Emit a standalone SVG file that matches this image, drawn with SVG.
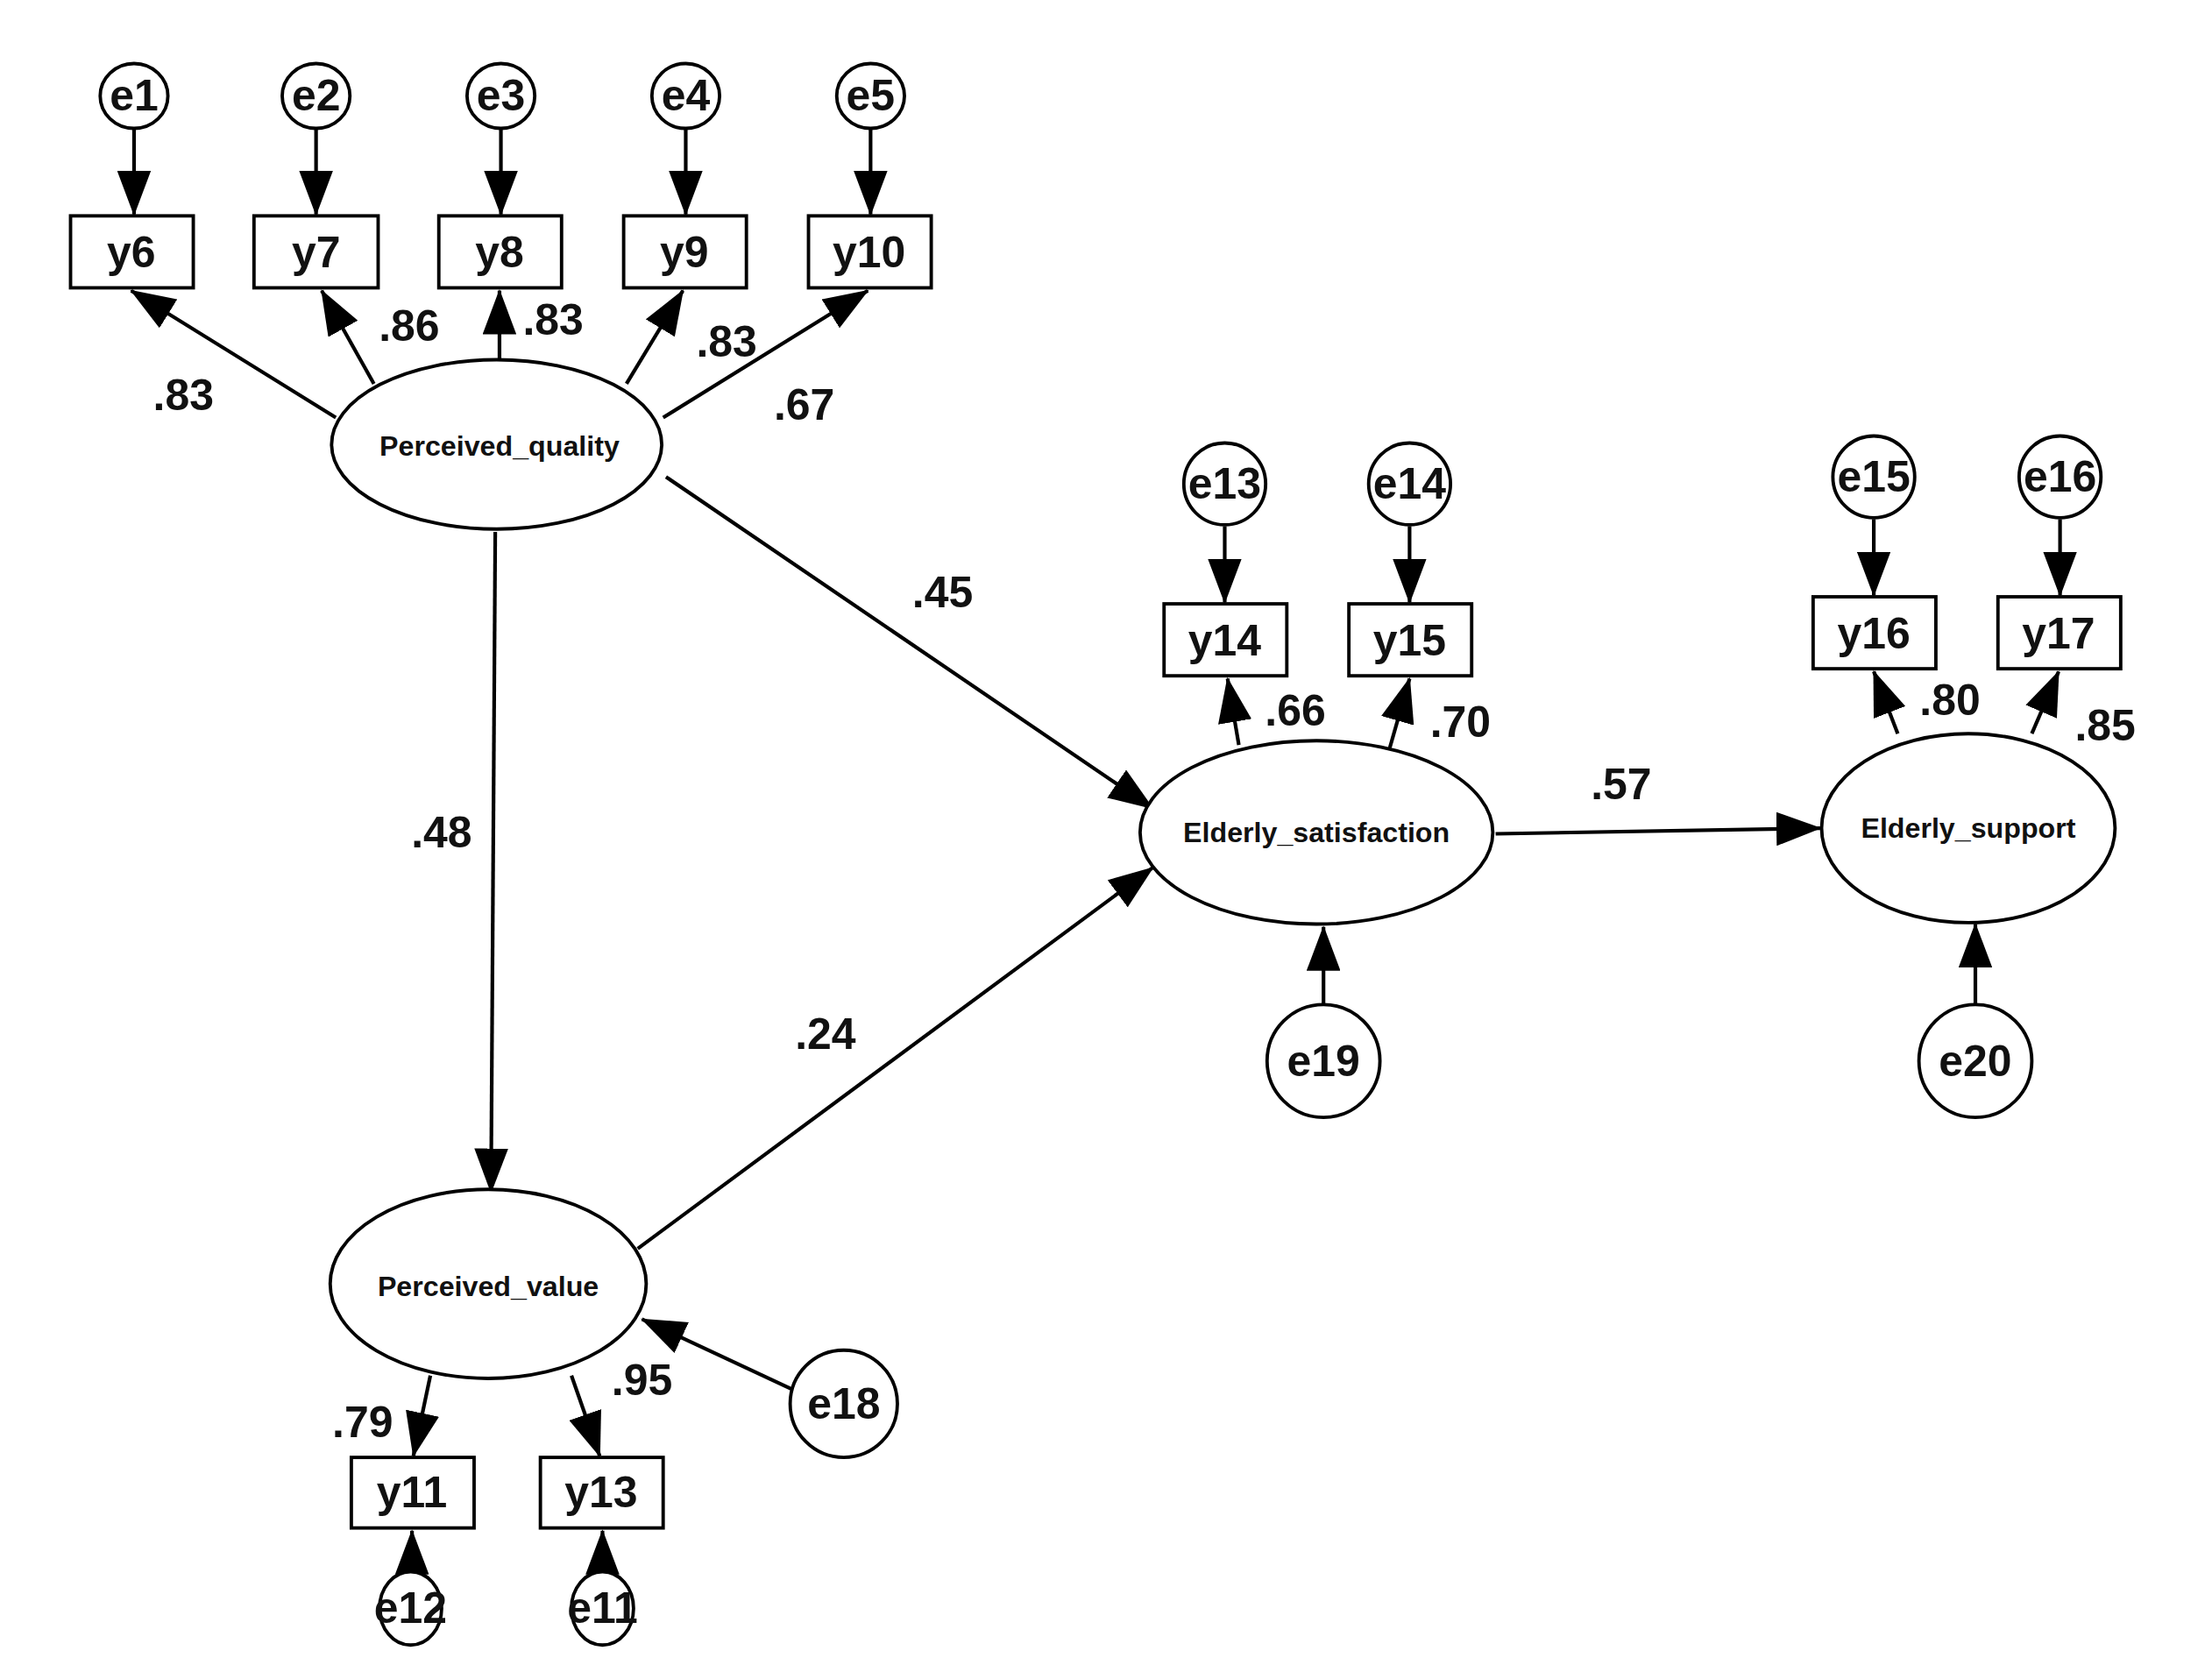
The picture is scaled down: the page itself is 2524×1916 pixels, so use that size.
<svg xmlns="http://www.w3.org/2000/svg" width="2524" height="1916" viewBox="0 0 2524 1916">
<style>
.n{fill:#fff;stroke:#000;stroke-width:2.4}
.t{font-family:"Liberation Sans",Arial,sans-serif;font-weight:bold;text-anchor:middle;dominant-baseline:central;fill:#111}
.b{font-size:31px}
.l{font-size:31px}
.s{font-size:20px}
.c line{stroke:#000;stroke-width:2.6;marker-end:url(#a)}
</style>
<defs><marker id="a" markerUnits="userSpaceOnUse" markerWidth="32" markerHeight="24" refX="31" refY="12" orient="auto"><path d="M0,0L32,12L0,24Z" fill="#000"/></marker></defs>
<rect width="2524" height="1916" fill="#fff"/>
<g transform="scale(1.61)">
<g class="c" id="connectors">
<line x1="95" y1="91" x2="95" y2="152"/><line x1="224" y1="91" x2="224" y2="152"/><line x1="355" y1="91" x2="355" y2="152"/><line x1="486" y1="91" x2="486" y2="152"/><line x1="617" y1="91" x2="617" y2="152"/>
<line x1="238" y1="296" x2="93" y2="206"/><line x1="265" y1="272" x2="228" y2="206"/><line x1="354" y1="255" x2="354" y2="206"/><line x1="444" y1="272" x2="484" y2="206"/><line x1="470" y1="296" x2="615" y2="206"/>
<line x1="472" y1="338" x2="817" y2="573"/><line x1="351" y1="377" x2="348" y2="845"/><line x1="452" y1="885" x2="817" y2="615"/><line x1="1060" y1="591" x2="1290" y2="587"/>
<line x1="878" y1="528" x2="870" y2="481"/><line x1="985" y1="530" x2="999" y2="481"/><line x1="1345" y1="520" x2="1328" y2="476"/><line x1="1440" y1="520" x2="1459" y2="476"/>
<line x1="868" y1="373" x2="868" y2="427"/><line x1="999" y1="373" x2="999" y2="427"/><line x1="1328" y1="368" x2="1328" y2="422"/><line x1="1460" y1="368" x2="1460" y2="422"/>
<line x1="938" y1="712" x2="938" y2="657"/><line x1="1400" y1="712" x2="1400" y2="655"/><line x1="562" y1="985" x2="455" y2="935"/>
<line x1="305" y1="975" x2="293" y2="1032"/><line x1="405" y1="975" x2="425" y2="1032"/>
<line x1="292" y1="1140" x2="292" y2="1085"/><line x1="427" y1="1140" x2="427" y2="1085"/>
</g>
<g id="e1"><ellipse class="n" cx="95" cy="68" rx="24" ry="23"/><text class="t b" x="95" y="68">e1</text></g>
<g id="e2"><ellipse class="n" cx="224" cy="68" rx="24" ry="23"/><text class="t b" x="224" y="68">e2</text></g>
<g id="e3"><ellipse class="n" cx="355" cy="68" rx="24" ry="23"/><text class="t b" x="355" y="68">e3</text></g>
<g id="e4"><ellipse class="n" cx="486" cy="68" rx="24" ry="23"/><text class="t b" x="486" y="68">e4</text></g>
<g id="e5"><ellipse class="n" cx="617" cy="68" rx="24" ry="23"/><text class="t b" x="617" y="68">e5</text></g>
<g id="y6"><rect class="n" x="50" y="153" width="87" height="51"/><text class="t b" x="93" y="179">y6</text></g>
<g id="y7"><rect class="n" x="180" y="153" width="88" height="51"/><text class="t b" x="224" y="179">y7</text></g>
<g id="y8"><rect class="n" x="311" y="153" width="87" height="51"/><text class="t b" x="354" y="179">y8</text></g>
<g id="y9"><rect class="n" x="442" y="153" width="87" height="51"/><text class="t b" x="485" y="179">y9</text></g>
<g id="y10"><rect class="n" x="573" y="153" width="87" height="51"/><text class="t b" x="616" y="179">y10</text></g>
<g id="pq"><ellipse class="n" cx="352" cy="315" rx="117" ry="60"/><text class="t s" x="354" y="316">Perceived_quality</text></g>
<g id="e13"><circle class="n" cx="868" cy="343" r="29"/><text class="t b" x="868" y="343">e13</text></g>
<g id="e14"><circle class="n" cx="999" cy="343" r="29"/><text class="t b" x="999" y="343">e14</text></g>
<g id="y14"><rect class="n" x="825" y="428" width="87" height="51"/><text class="t b" x="868" y="454">y14</text></g>
<g id="y15"><rect class="n" x="956" y="428" width="87" height="51"/><text class="t b" x="999" y="454">y15</text></g>
<g id="es"><ellipse class="n" cx="933" cy="590" rx="125" ry="65"/><text class="t s" x="933" y="590">Elderly_satisfaction</text></g>
<g id="e15"><circle class="n" cx="1328" cy="338" r="29"/><text class="t b" x="1328" y="338">e15</text></g>
<g id="e16"><circle class="n" cx="1460" cy="338" r="29"/><text class="t b" x="1460" y="338">e16</text></g>
<g id="y16"><rect class="n" x="1285" y="423" width="87" height="51"/><text class="t b" x="1328" y="449">y16</text></g>
<g id="y17"><rect class="n" x="1416" y="423" width="87" height="51"/><text class="t b" x="1459" y="449">y17</text></g>
<g id="esup"><ellipse class="n" cx="1395" cy="587" rx="104" ry="67"/><text class="t s" x="1395" y="587">Elderly_support</text></g>
<g id="e19"><circle class="n" cx="938" cy="752" r="40"/><text class="t b" x="938" y="752">e19</text></g>
<g id="e20"><circle class="n" cx="1400" cy="752" r="40"/><text class="t b" x="1400" y="752">e20</text></g>
<g id="pv"><ellipse class="n" cx="346" cy="910" rx="112" ry="67"/><text class="t s" x="346" y="912">Perceived_value</text></g>
<g id="e18"><circle class="n" cx="598" cy="995" r="38"/><text class="t b" x="598" y="995">e18</text></g>
<g id="y11"><rect class="n" x="249" y="1033" width="87" height="50"/><text class="t b" x="292" y="1058">y11</text></g>
<g id="y13"><rect class="n" x="383" y="1033" width="87" height="50"/><text class="t b" x="426" y="1058">y13</text></g>
<g id="e12"><ellipse class="n" cx="291" cy="1140" rx="22" ry="26"/><text class="t b" x="291" y="1140">e12</text></g>
<g id="e11"><ellipse class="n" cx="427" cy="1140" rx="22" ry="26"/><text class="t b" x="427" y="1140">e11</text></g>
<g id="labels">
<text class="t l" x="130" y="280">.83</text><text class="t l" x="290" y="231">.86</text><text class="t l" x="392" y="227">.83</text><text class="t l" x="515" y="242">.83</text><text class="t l" x="570" y="287">.67</text>
<text class="t l" x="668" y="420">.45</text><text class="t l" x="313" y="590">.48</text><text class="t l" x="585" y="733">.24</text><text class="t l" x="1149" y="556">.57</text>
<text class="t l" x="918" y="504">.66</text><text class="t l" x="1035" y="512">.70</text><text class="t l" x="1382" y="496">.80</text><text class="t l" x="1492" y="514">.85</text>
<text class="t l" x="257" y="1008">.79</text><text class="t l" x="455" y="978">.95</text>
</g>
</g>
</svg>
